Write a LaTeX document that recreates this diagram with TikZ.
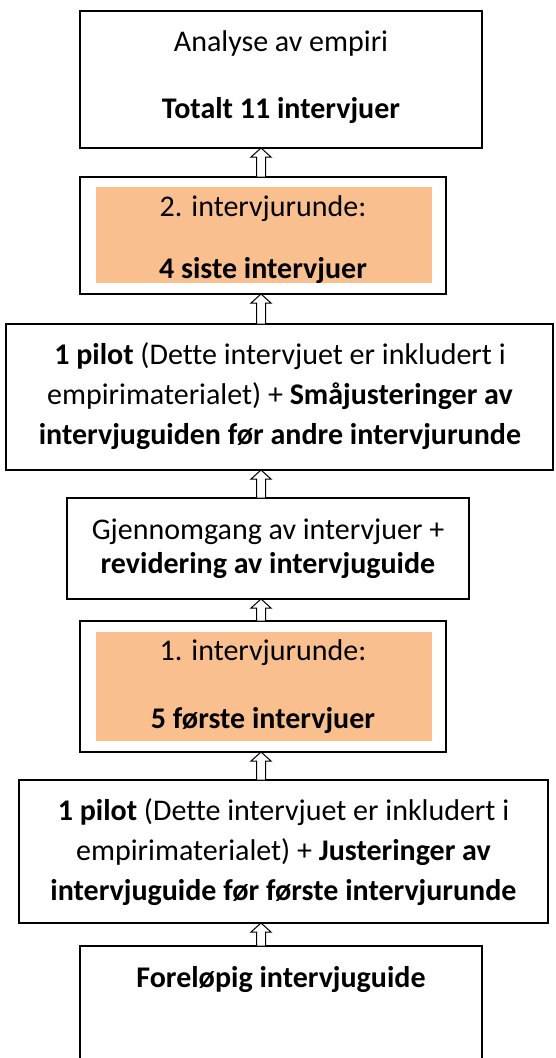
\documentclass[tikz,border=0pt]{standalone}
\usepackage{fontspec}
\setmainfont{Carlito}[Ligatures={NoCommon}]
\usetikzlibrary{calc}
\definecolor{peach}{HTML}{F9BF8F}
\tikzset{
  box/.style={draw=black, line width=1.2pt, fill=white, inner sep=0pt, outer sep=0pt},
  hl/.style={fill=peach, draw=none, inner sep=0pt, outer sep=0pt},
  txt/.style={anchor=base, inner sep=0pt, outer sep=0pt, font=\fontsize{30}{36}\selectfont},
  arr/.style={draw=black, line width=1pt, fill=white, line join=miter}
}
\newcommand{\blkarrow}[2]{%
  \draw[arr] let \p1=(ax |- #1.north), \p2=(ax |- #2.south) in
    (\x1-4.5pt,\y1) -- (\x1-4.5pt,\y2-9pt) -- (\x1-10pt,\y2-9pt) -- (\x1,\y2)
    -- (\x1+10pt,\y2-9pt) -- (\x1+4.5pt,\y2-9pt) -- (\x1+4.5pt,\y1) -- cycle;}
\begin{document}
\begin{tikzpicture}[x=1pt,y=-1pt]
\useasboundingbox (0,0) rectangle (555,1058);
\fill[white] (0,0) rectangle (555,1058);
\clip (0,0) rectangle (555,1058);
\coordinate (ax) at (261,0);
% boxes
\node[box, minimum width=402pt, minimum height=137pt] (b1) at (281,79.5) {};
\node[box, minimum width=366pt, minimum height=117pt] (b2) at (263,235.5) {};
\node[hl, minimum width=336pt, minimum height=96pt] (o2) at (264,235) {};
\node[box, minimum width=547pt, minimum height=146pt] (b3) at (279.5,397) {};
\node[box, minimum width=402pt, minimum height=101pt] (b4) at (268,548.5) {};
\node[box, minimum width=366pt, minimum height=131pt] (b5) at (263,686.5) {};
\node[hl, minimum width=336pt, minimum height=109pt] (o5) at (264,686.5) {};
\node[box, minimum width=529pt, minimum height=143pt] (b6) at (283.5,851.5) {};
\node[box, minimum width=402pt, minimum height=140pt] (b7) at (281,1016) {};
% texts
\node[txt] (t1a) at (281,51) {Analyse av empiri};
\node[txt] (t1b) at (281,118) {\textbf{Totalt 11 intervjuer}};
\node[txt] (t2a) at (263,216) {2. intervjurunde:};
\node[txt] (t2b) at (263,278) {\textbf{4 siste intervjuer}};
\node[txt] (t3a) at (280,364) {\textbf{1 pilot} (Dette intervjuet er inkludert i};
\node[txt] (t3b) at (280,404) {empirimaterialet) + \textbf{Småjusteringer av}};
\node[txt] (t3c) at (280,444) {\textbf{intervjuguiden før andre intervjurunde}};
\node[txt] (t4a) at (268,539) {Gjennomgang av intervjuer +};
\node[txt] (t4b) at (268,573) {\textbf{revidering av intervjuguide}};
\node[txt] (t5a) at (263,660) {1. intervjurunde:};
\node[txt] (t5b) at (263,728) {\textbf{5 første intervjuer}};
\node[txt] (t6a) at (283.5,820) {\textbf{1 pilot} (Dette intervjuet er inkludert i};
\node[txt] (t6b) at (283.5,860) {empirimaterialet) + \textbf{Justeringer av}};
\node[txt] (t6c) at (283.5,900) {\textbf{intervjuguide før første intervjurunde}};
\node[txt] (t7a) at (281,987) {\textbf{Foreløpig intervjuguide}};
% arrows
\blkarrow{b2}{b1}
\blkarrow{b3}{b2}
\blkarrow{b4}{b3}
\blkarrow{b5}{b4}
\blkarrow{b6}{b5}
\blkarrow{b7}{b6}
\end{tikzpicture}
\end{document}
